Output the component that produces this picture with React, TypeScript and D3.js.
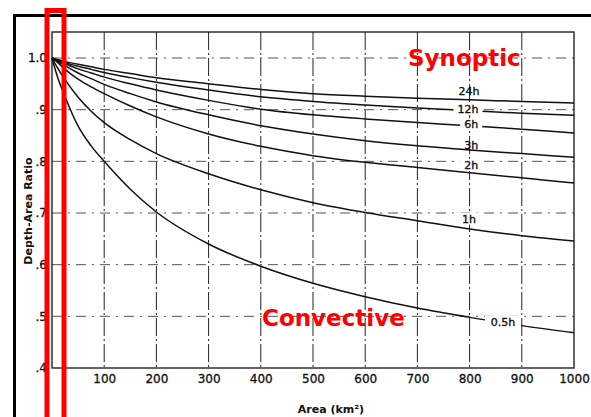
import React, { useEffect, useRef } from "react";
import * as d3 from "d3";

// area in km2
const areas = [0, 10, 25, 50, 75, 100, 150, 200, 300, 400, 500, 600, 700, 800, 900, 1000];

// depth-area ratio per duration, one value per area above
const r24h = [1.0, 0.997, 0.993, 0.988, 0.983, 0.978, 0.97, 0.962, 0.95, 0.939, 0.931, 0.926, 0.922, 0.919, 0.916, 0.913];
const r12h = [1.0, 0.996, 0.991, 0.984, 0.978, 0.972, 0.962, 0.953, 0.938, 0.925, 0.916, 0.909, 0.903, 0.898, 0.893, 0.889];
const r6h = [1.0, 0.995, 0.989, 0.979, 0.971, 0.963, 0.95, 0.938, 0.918, 0.901, 0.89, 0.882, 0.875, 0.869, 0.862, 0.855];
const r3h = [1.0, 0.994, 0.985, 0.971, 0.96, 0.949, 0.931, 0.915, 0.89, 0.869, 0.853, 0.84, 0.83, 0.822, 0.815, 0.808];
const r2h = [1.0, 0.992, 0.978, 0.959, 0.944, 0.931, 0.907, 0.886, 0.853, 0.829, 0.811, 0.798, 0.788, 0.778, 0.768, 0.758];
const r1h = [1.0, 0.982, 0.958, 0.924, 0.897, 0.875, 0.842, 0.815, 0.776, 0.745, 0.72, 0.701, 0.685, 0.669, 0.656, 0.646];
const r05h = [1.0, 0.965, 0.925, 0.868, 0.83, 0.8, 0.746, 0.702, 0.64, 0.597, 0.564, 0.538, 0.516, 0.498, 0.482, 0.468];

const series = [r24h, r12h, r6h, r3h, r2h, r1h, r05h];

// curve labels: text, area, ratio
const labelText = ["24h", "12h", "6h", "3h", "2h", "1h", "0.5h"];
const labelArea = [799, 797, 803, 803, 803, 799, 864];
const labelRatio = [0.936, 0.901, 0.872, 0.832, 0.793, 0.689, 0.489];
const knockout = ["12h", "6h", "2h", "1h", "0.5h"];

const xTicks = [100, 200, 300, 400, 500, 600, 700, 800, 900, 1000];
const yTicks = [0.4, 0.5, 0.6, 0.7, 0.8, 0.9, 1.0];

const W = 591;
const H = 417;
const FONT = "DejaVu Sans, Verdana, sans-serif";

const App = () => {
  const ref = useRef<SVGSVGElement>(null);

  useEffect(() => {
    const svg = d3.select(ref.current);
    svg.selectAll("*").remove();

    const left = 52, right = 574, top = 32, bottom = 368;

    const x = d3.scaleLinear().domain([0, 1000]).range([left, right]);
    const y = d3.scaleLinear().domain([0.4, 1.0]).range([bottom, 58]);

    svg.append("rect").attr("width", W).attr("height", H).attr("fill", "#fff");

    // outer frame (top and left visible)
    svg.append("path")
      .attr("d", `M14.5,${H} L14.5,15.5 L${W},15.5`)
      .attr("fill", "none")
      .attr("stroke", "#000")
      .attr("stroke-width", 3);

    // grid
    svg.append("g")
      .selectAll("line")
      .data(xTicks.slice(0, -1))
      .enter()
      .append("line")
      .attr("x1", d => x(d))
      .attr("x2", d => x(d))
      .attr("y1", top)
      .attr("y2", bottom)
      .attr("stroke", "#222")
      .attr("stroke-width", 1)
      .attr("stroke-dasharray", "18,3,2,3");

    svg.append("g")
      .selectAll("line")
      .data(yTicks.slice(1))
      .enter()
      .append("line")
      .attr("x1", left)
      .attr("x2", right)
      .attr("y1", d => y(d))
      .attr("y2", d => y(d))
      .attr("stroke", "#555")
      .attr("stroke-width", 1)
      .attr("stroke-dasharray", "10,6,2,6");

    // plot frame
    svg.append("rect")
      .attr("x", left)
      .attr("y", top)
      .attr("width", right - left)
      .attr("height", bottom - top)
      .attr("fill", "none")
      .attr("stroke", "#111")
      .attr("stroke-width", 1.3);

    // curves
    const line = d3.line<number>()
      .x((_, i) => x(areas[i]))
      .y(d => y(d))
      .curve(d3.curveMonotoneX);

    svg.append("g")
      .selectAll("path")
      .data(series)
      .enter()
      .append("path")
      .attr("d", d => line(d))
      .attr("fill", "none")
      .attr("stroke", "#111")
      .attr("stroke-width", 1.5);

    // curve labels
    const lg = svg.append("g");
    labelText.forEach((t, i) => {
      const cx = x(labelArea[i]);
      const cy = y(labelRatio[i]);
      if (knockout.includes(t)) {
        const w = t.length * 7 + 8;
        lg.append("rect")
          .attr("x", cx - w / 2)
          .attr("y", cy - 6)
          .attr("width", w)
          .attr("height", 12)
          .attr("fill", "#fff");
      }
      lg.append("text")
        .attr("x", cx)
        .attr("y", cy)
        .attr("dy", "0.36em")
        .attr("text-anchor", "middle")
        .attr("font-family", FONT)
        .attr("font-size", 11)
        .attr("fill", "#111")
        .attr("stroke", "#111")
        .attr("stroke-width", 0.35)
        .text(t);
    });

    // axes
    const xAxis = svg.append("g")
      .attr("transform", `translate(0,${bottom})`)
      .call(d3.axisBottom(x).tickValues(xTicks).tickSize(0).tickPadding(6).tickFormat(d3.format("d")));
    xAxis.select(".domain").remove();
    xAxis.selectAll("text")
      .attr("font-family", FONT)
      .attr("font-size", 12)
      .attr("fill", "#111")
      .attr("stroke", "#111")
      .attr("stroke-width", 0.3);

    const yAxis = svg.append("g")
      .attr("transform", `translate(${left},0)`)
      .call(d3.axisLeft(y).tickValues(yTicks).tickSize(0).tickPadding(5)
        .tickFormat(d => (+d >= 1 ? "1.0" : d3.format(".1f")(+d).replace(/^0/, ""))));
    yAxis.select(".domain").remove();
    yAxis.selectAll("text")
      .attr("font-family", FONT)
      .attr("font-size", 12)
      .attr("fill", "#111")
      .attr("stroke", "#111")
      .attr("stroke-width", 0.3);

    // axis titles
    svg.append("text")
      .attr("transform", "translate(32,211) rotate(-90)")
      .attr("text-anchor", "middle")
      .attr("font-family", FONT)
      .attr("font-weight", "bold")
      .attr("font-size", 11)
      .attr("fill", "#111")
      .text("Depth-Area Ratio");

    svg.append("text")
      .attr("x", 331)
      .attr("y", 413)
      .attr("text-anchor", "middle")
      .attr("font-family", FONT)
      .attr("font-weight", "bold")
      .attr("font-size", 11)
      .attr("fill", "#111")
      .text("Area (km²)");

    // red annotations
    svg.append("text")
      .attr("x", 408)
      .attr("y", 66)
      .attr("font-family", FONT)
      .attr("font-weight", "bold")
      .attr("font-size", 23)
      .attr("fill", "#f00")
      .text("Synoptic");

    svg.append("text")
      .attr("x", 262)
      .attr("y", 326)
      .attr("font-family", FONT)
      .attr("font-weight", "bold")
      .attr("font-size", 23)
      .attr("fill", "#f00")
      .text("Convective");

    svg.append("rect")
      .attr("x", 47)
      .attr("y", 10.5)
      .attr("width", 17)
      .attr("height", 430)
      .attr("fill", "none")
      .attr("stroke", "#f00")
      .attr("stroke-width", 5);
  }, []);

  return (
    <svg
      ref={ref}
      width={W}
      height={H}
      style={{ position: "absolute", left: 0, top: 0, display: "block" }}
    />
  );
};

export default App;
